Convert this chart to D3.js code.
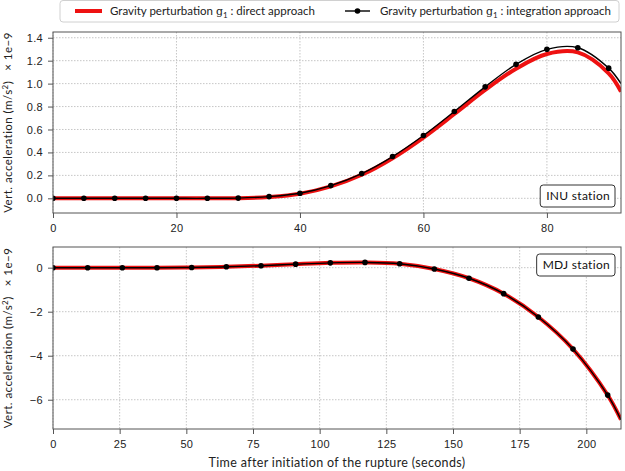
<!DOCTYPE html>
<html>
<head>
<meta charset="utf-8">
<script src="https://cdn.jsdelivr.net/npm/d3@7"></script>
<style>
  body { margin: 0; background: #fff; }
  svg { font-family: Lato, "DejaVu Sans", sans-serif; }
  .tick text { font-size: 11px; fill: #222; letter-spacing: 0.3px; }
  .tick line { stroke: #555; }
  .domain { stroke: none; }
</style>
</head>
<body>
<svg width="625" height="471"></svg>
<script>
// top panel (INU station)
var inuMarkT = [0, 5, 10, 15, 20, 25, 30, 35, 40, 45, 50, 55, 60, 65, 70, 75, 80, 85, 90];
var inuInteg = [0, 0, 0, 0, 0, 0, 0.002, 0.015, 0.044, 0.111, 0.216, 0.364, 0.548, 0.757, 0.972, 1.168, 1.299, 1.313, 1.135];
var inuLineT = [0, 5, 10, 15, 20, 25, 30, 35, 40, 45, 50, 55, 60, 65, 70, 75, 80, 85, 90, 92];
var inuIntegLine = [0, 0, 0, 0, 0, 0, 0.002, 0.015, 0.044, 0.111, 0.216, 0.364, 0.548, 0.757, 0.972, 1.168, 1.299, 1.313, 1.135, 1.0];
var inuDirect = [0, 0, 0, 0, 0, 0, 0.001, 0.012, 0.04, 0.104, 0.205, 0.35, 0.53, 0.735, 0.945, 1.13, 1.258, 1.272, 1.09, 0.93];
var inuYTicks = [0, 0.2, 0.4, 0.6, 0.8, 1.0, 1.2, 1.4];
var inuXTicks = [0, 20, 40, 60, 80];

// bottom panel (MDJ station)
var mdjMarkT = [0, 13, 26, 39, 52, 65, 78, 91, 104, 117, 130, 143, 156, 169, 182, 195, 208];
var mdjInteg = [0, 0, 0, 0, 0.01, 0.04, 0.09, 0.16, 0.22, 0.24, 0.18, -0.06, -0.48, -1.18, -2.24, -3.70, -5.79];
var mdjLineT = [0, 13, 26, 39, 52, 65, 78, 91, 104, 117, 130, 143, 156, 169, 182, 195, 208, 213];
var mdjIntegLine = [0, 0, 0, 0, 0.01, 0.04, 0.09, 0.16, 0.22, 0.24, 0.18, -0.06, -0.48, -1.18, -2.24, -3.70, -5.79, -6.91];
var mdjDirect = [0, 0, 0, 0, 0.01, 0.04, 0.09, 0.16, 0.22, 0.24, 0.18, -0.06, -0.48, -1.18, -2.24, -3.70, -5.79, -6.91];
var mdjYTicks = [0, -2, -4, -6];
var mdjXTicks = [0, 25, 50, 75, 100, 125, 150, 175, 200];

var svg = d3.select('svg');
var left = 53, right = 621;

function drawPanel(opts) {
    var x = d3.scaleLinear().domain(opts.xDomain).range([left, right]);
    var y = d3.scaleLinear().domain(opts.yDomain).range([opts.bottom, opts.top]);
    var g = svg.append('g');

    var clipId = 'clip' + opts.name;
    g.append('clipPath').attr('id', clipId)
        .append('rect').attr('x', left).attr('y', opts.top)
        .attr('width', right - left).attr('height', opts.bottom - opts.top);

    // grid
    g.selectAll('.vgrid').data(opts.xTicks).enter().append('line')
        .attr('x1', d => x(d)).attr('x2', d => x(d))
        .attr('y1', opts.top).attr('y2', opts.bottom)
        .attr('stroke', '#b8b8b8').attr('stroke-width', 0.8).attr('stroke-dasharray', '1.5,1.5');
    g.selectAll('.hgrid').data(opts.yTicks).enter().append('line')
        .attr('x1', left).attr('x2', right)
        .attr('y1', d => y(d)).attr('y2', d => y(d))
        .attr('stroke', '#b8b8b8').attr('stroke-width', 0.8).attr('stroke-dasharray', '1.5,1.5');

    var plot = g.append('g').attr('clip-path', 'url(#' + clipId + ')');
    var line = d3.line().curve(d3.curveCatmullRom.alpha(0.5))
        .x(d => x(d[0])).y(d => y(d[1]));

    plot.append('path')
        .attr('d', line(d3.zip(opts.lineT, opts.direct)))
        .attr('fill', 'none').attr('stroke', '#ee1111').attr('stroke-width', 4);
    plot.append('path')
        .attr('d', line(d3.zip(opts.lineT, opts.integLine)))
        .attr('fill', 'none').attr('stroke', '#000').attr('stroke-width', 1.4);
    plot.selectAll('circle').data(d3.zip(opts.markT, opts.integ)).enter().append('circle')
        .attr('cx', d => x(d[0])).attr('cy', d => y(d[1])).attr('r', 2.8).attr('fill', '#000');

    // axes
    g.append('g').attr('transform', 'translate(0,' + opts.bottom + ')')
        .call(d3.axisBottom(x).tickValues(opts.xTicks).tickSize(5).tickPadding(6).tickFormat(d3.format('d')));
    g.append('g').attr('transform', 'translate(' + left + ',0)')
        .call(d3.axisLeft(y).tickValues(opts.yTicks).tickSize(5).tickPadding(5)
            .tickFormat(opts.yFormat));

    g.append('rect').attr('x', left).attr('y', opts.top)
        .attr('width', right - left).attr('height', opts.bottom - opts.top)
        .attr('fill', 'none').attr('stroke', '#555').attr('stroke-width', 1);

    // station box
    var bx = g.append('g');
    var t = bx.append('text').text(opts.name + ' station')
        .attr('x', opts.boxRight - 5).attr('y', opts.boxY + 15)
        .attr('text-anchor', 'end').style('font-size', '12px').style('letter-spacing', '0.3px').attr('fill', '#111');
    var w = t.node().getComputedTextLength();
    bx.insert('rect', 'text')
        .attr('x', opts.boxRight - w - 11).attr('y', opts.boxY)
        .attr('width', w + 11).attr('height', 22).attr('rx', 3)
        .attr('fill', '#fff').attr('stroke', '#333').attr('stroke-width', 1);

    // y label
    var lab = svg.append('text')
        .attr('transform', 'translate(12,' + (opts.top + opts.bottom) / 2 + ') rotate(-90)')
        .attr('text-anchor', 'middle').style('font-size', '11.5px').style('letter-spacing', '0.45px').attr('fill', '#222');
    lab.append('tspan').text('Vert. acceleration (m/s');
    lab.append('tspan').text('2').attr('dy', -4).style('font-size', '8px');
    lab.append('tspan').text(')\u00a0\u00a0\u00a0\u00d7 1e\u22129').attr('dy', 4);
}

drawPanel({
    name: 'INU', top: 32, bottom: 213,
    xDomain: [0, 92], yDomain: [-0.128, 1.45],
    xTicks: inuXTicks, yTicks: inuYTicks, yFormat: d3.format('.1f'),
    markT: inuMarkT, integ: inuInteg, lineT: inuLineT, integLine: inuIntegLine, direct: inuDirect,
    boxRight: 615, boxY: 185
});

drawPanel({
    name: 'MDJ', top: 247, bottom: 429,
    xDomain: [0, 213], yDomain: [-7.33, 0.94],
    xTicks: mdjXTicks, yTicks: mdjYTicks, yFormat: d => d3.format('d')(d).replace('-', '\u2212'),
    markT: mdjMarkT, integ: mdjInteg, lineT: mdjLineT, integLine: mdjIntegLine, direct: mdjDirect,
    boxRight: 615, boxY: 254
});

svg.append('text').text('Time after initiation of the rupture (seconds)')
    .attr('x', (left + right) / 2).attr('y', 467)
    .attr('text-anchor', 'middle').style('font-size', '12.5px').style('letter-spacing', '0.35px').attr('fill', '#222');

// legend
var leg = svg.append('g');
leg.append('rect').attr('x', 60).attr('y', 0.5).attr('width', 559).attr('height', 21.5).attr('rx', 3)
    .attr('fill', '#fff').attr('stroke', '#d0d0d0').attr('stroke-width', 1);
leg.append('line').attr('x1', 75).attr('x2', 102).attr('y1', 11).attr('y2', 11)
    .attr('stroke', '#ee1111').attr('stroke-width', 4);
leg.append('line').attr('x1', 345).attr('x2', 370).attr('y1', 11).attr('y2', 11)
    .attr('stroke', '#000').attr('stroke-width', 1.4);
leg.append('circle').attr('cx', 357.5).attr('cy', 11).attr('r', 2.8).attr('fill', '#000');

function legText(x, rest) {
    var t = leg.append('text').attr('x', x).attr('y', 15).style('font-size', '11.5px').attr('fill', '#222');
    t.append('tspan').text('Gravity perturbation ');
    t.append('tspan').text('g').style('font-family', '"DejaVu Serif", serif').style('font-size', '11px');
    t.append('tspan').text('1').attr('dy', 2.5).style('font-size', '8px');
    t.append('tspan').text('\u00a0: ' + rest).attr('dy', -2.5);
}
legText(110, 'direct approach');
legText(380, 'integration approach');
</script>
</body>
</html>
